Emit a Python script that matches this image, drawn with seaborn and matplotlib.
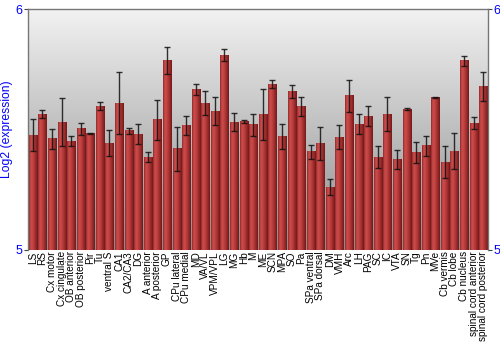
import numpy as np
import pandas as pd
import matplotlib
matplotlib.use("Agg")
import matplotlib.pyplot as plt
import seaborn as sns
from matplotlib.colors import LinearSegmentedColormap

regions = ["LS", "RS", "Cx motor", "Cx cingulate", "OB anterior", "OB posterior", "Pir", "Tu",
           "ventral S", "CA1", "CA2/CA3", "DG", "A anterior", "A posterior", "GP", "CPu lateral",
           "CPu medial", "MD", "VA/VL", "VPM/VPL", "LG", "MG", "Hb", "M", "ME", "SCN", "MPA", "SO",
           "Pa", "SPa ventral", "SPa dorsal", "DM", "VMH", "Arc", "LH", "PAG", "SC", "IC", "VTA",
           "SN", "Tg", "Pn", "MVe", "Cb vermis", "Cb lobe", "Cb nucleus", "spinal cord anterior",
           "spinal cord posterior"]
expression = [5.477, 5.563, 5.462, 5.531, 5.451, 5.503, 5.484, 5.598,
              5.443, 5.609, 5.495, 5.481, 5.386, 5.541, 5.786, 5.420,
              5.517, 5.667, 5.609, 5.577, 5.809, 5.531, 5.534, 5.520, 5.563, 5.689, 5.470, 5.658,
              5.596, 5.408, 5.443, 5.261, 5.469, 5.640, 5.523, 5.556, 5.386, 5.563, 5.376,
              5.585, 5.405, 5.432, 5.632, 5.365, 5.411, 5.786, 5.526,
              5.679]
error = [0.065, 0.016, 0.041, 0.098, 0.020, 0.024, 0.003, 0.016,
         0.053, 0.129, 0.012, 0.040, 0.019, 0.083, 0.057, 0.091,
         0.041, 0.024, 0.050, 0.059, 0.026, 0.039, 0.006, 0.045, 0.106, 0.015, 0.052, 0.026,
         0.039, 0.029, 0.068, 0.034, 0.050, 0.066, 0.043, 0.042, 0.044, 0.071, 0.038,
         0.006, 0.044, 0.040, 0.003, 0.068, 0.074, 0.021, 0.024,
         0.060]
y_ticks = [5, 6]

df = pd.DataFrame({"region": regions, "expression": expression, "error": error})

sns.set_style("white")
plt.rcParams["font.family"] = ["Liberation Sans", "DejaVu Sans"]

fig = plt.figure(figsize=(5, 3.5), dpi=100)
ax = fig.add_axes([0.056, 0.286, 0.920, 0.688])

sns.barplot(data=df, x="region", y="expression", color="#b33a3a", width=0.84,
            errorbar=None, ax=ax, linewidth=0, zorder=2)

ylo, yhi = 5, 6
ax.set_ylim(ylo, yhi)
ax.set_xlim(-0.5, len(regions) - 0.5)

# background gradient (light top, darker bottom)
bg = np.linspace(0, 1, 256).reshape(-1, 1)
bg_cmap = LinearSegmentedColormap.from_list("bg", ["#f2f2f2", "#8c8c8c"])
ax.imshow(bg, cmap=bg_cmap, aspect="auto", extent=[0, 1, 0, 1], origin="upper",
          transform=ax.transAxes, zorder=0, interpolation="bicubic")

# bar gradients (horizontal shading inside each bar)
bar_cmap = LinearSegmentedColormap.from_list(
    "bar", ["#8e2828", "#cc4c4c", "#c64646", "#ae3636", "#942828", "#721818"])
grad = np.linspace(0, 1, 64).reshape(1, -1)
for p in list(ax.patches):
    x0, w = p.get_x(), p.get_width()
    top = p.get_y() + p.get_height()
    ax.imshow(grad, cmap=bar_cmap, aspect="auto",
              extent=[x0, x0 + w, ylo, top], zorder=2.5, interpolation="bilinear")

ax.set_xlim(-0.5, len(regions) - 0.5)
ax.set_ylim(ylo, yhi)

ax.errorbar(np.arange(len(regions)), df["expression"], yerr=df["error"], fmt="none",
            ecolor="#111111", elinewidth=1.0, capsize=2, capthick=1.0, zorder=3, alpha=0.85)

ax.set_xlabel("")
ax.set_ylabel("Log2 (expression)", color="#0000ff", fontsize=8.7, labelpad=2)
ax.set_yticks(y_ticks)
ax.set_yticklabels([str(t) for t in y_ticks])
ax.tick_params(axis="y", colors="#0000ff", labelsize=9, length=3, width=0.8,
               left=True, right=True, labelleft=True, labelright=True, pad=1)
ax.tick_params(axis="y", color="#444444")
ax.tick_params(axis="x", length=0, labelsize=7.2, pad=1, colors="black")
plt.setp(ax.get_xticklabels(), rotation=90)

for s in ax.spines.values():
    s.set_color("#777777")
    s.set_linewidth(1.0)
ax.spines["bottom"].set_visible(False)

fig.savefig("out.png", dpi=100)
